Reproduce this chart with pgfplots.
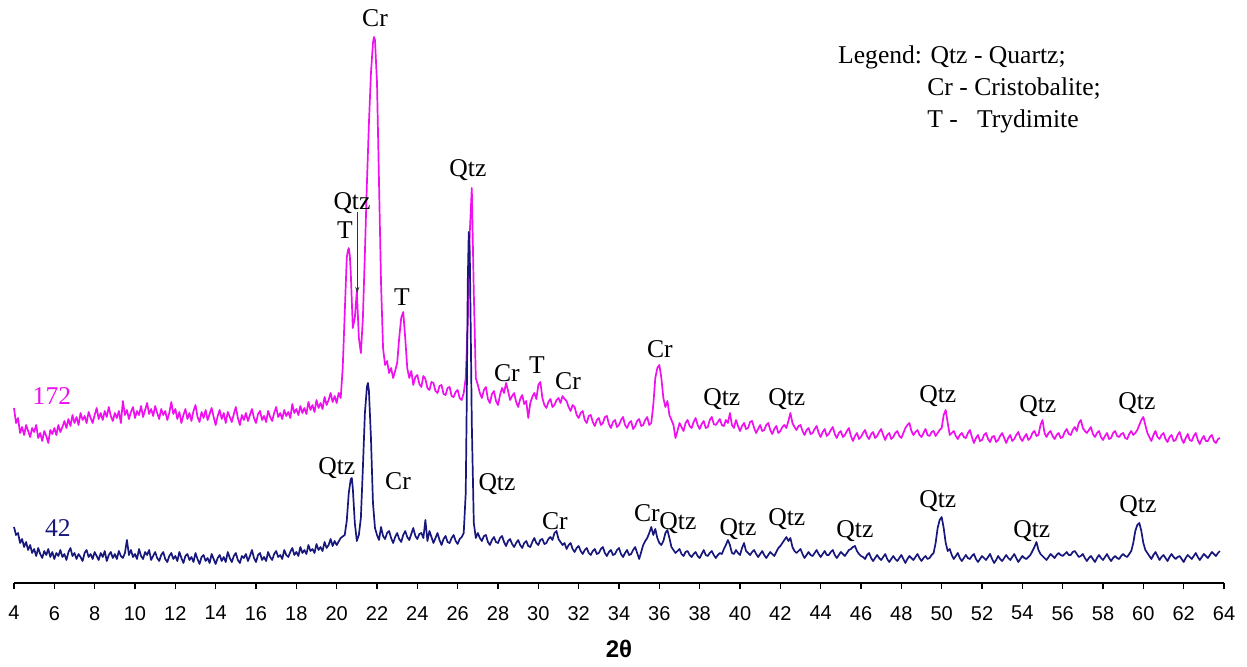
\documentclass[border=0pt]{standalone}
\usepackage{fontspec}
\setmainfont{Liberation Serif}
\setsansfont{Liberation Sans}
\usepackage{pgfplots}
\usepackage{pgfplotstable}
\pgfplotsset{compat=1.18}
\usetikzlibrary{arrows.meta}
\definecolor{mag}{HTML}{EE10EE}
\definecolor{nav}{HTML}{17177C}
\newcommand\annot{\fontsize{12.8}{14}\selectfont}
\begin{document}
\pgfplotstableread{
x y
4.0 175
4.1 160
4.2 165
4.3 150
4.4 156
4.5 148
4.6 158
4.7 152
4.8 146
4.9 155
5.0 151
5.1 158
5.2 145
5.3 150
5.4 142
5.5 152
5.6 147
5.7 140
5.8 153
5.9 149
6.0 155
6.1 148
6.2 158
6.3 151
6.4 156
6.5 162
6.6 155
6.7 164
6.8 157
6.9 168
7.0 160
7.1 166
7.2 158
7.3 170
7.4 163
7.5 167
7.6 160
7.7 171
7.8 165
7.9 160
8.0 168
8.1 175
8.2 164
8.3 170
8.4 163
8.5 172
8.6 166
8.7 176
8.8 167
8.9 162
9.0 170
9.1 165
9.2 172
9.3 160
9.4 182
9.5 168
9.6 173
9.7 164
9.8 171
9.9 176
10.0 165
10.1 172
10.2 168
10.3 177
10.4 166
10.5 173
10.6 180
10.7 169
10.8 174
10.9 167
11.0 177
11.1 170
11.2 164
11.3 174
11.4 168
11.5 172
11.6 163
11.7 170
11.8 181
11.9 169
12.0 174
12.1 164
12.2 171
12.3 160
12.4 168
12.5 174
12.6 164
12.7 170
12.8 162
12.9 172
13.0 178
13.1 166
13.2 161
13.3 171
13.4 165
13.5 173
13.6 163
13.7 169
13.8 175
13.9 166
14.0 158
14.1 167
14.2 173
14.3 164
14.4 170
14.5 160
14.6 171
14.7 166
14.8 161
14.9 169
15.0 176
15.1 165
15.2 158
15.3 168
15.4 163
15.5 170
15.6 162
15.7 168
15.8 174
15.9 165
16.0 160
16.1 169
16.2 172
16.3 163
16.4 167
16.5 161
16.6 172
16.7 166
16.8 162
16.9 170
17.0 176
17.1 166
17.2 170
17.3 164
17.4 173
17.5 167
17.6 171
17.7 165
17.8 179
17.9 170
18.0 174
18.1 168
18.2 177
18.3 170
18.4 175
18.5 169
18.6 181
18.7 173
18.8 178
18.9 171
19.0 183
19.1 175
19.2 180
19.3 174
19.4 186
19.5 178
19.6 183
19.7 190
19.8 181
19.9 187
20.0 180
20.1 190
20.2 185
20.3 215
20.4 270
20.5 325
20.55 332
20.6 335
20.65 328
20.7 310
20.8 255
20.9 265
21.0 292
21.1 245
21.2 230
21.3 265
21.4 330
21.5 400
21.6 460
21.7 510
21.8 540
21.85 546
21.9 543
22.0 500
22.1 400
22.2 300
22.3 235
22.4 218
22.5 222
22.6 210
22.7 215
22.8 205
22.9 212
23.0 220
23.1 245
23.2 265
23.3 271
23.4 245
23.5 215
23.6 205
23.7 212
23.8 198
23.9 206
24.0 208
24.1 199
24.2 196
24.3 207
24.4 204
24.5 195
24.6 193
24.7 201
24.8 200
24.9 192
25.0 190
25.1 197
25.2 198
25.3 189
25.4 188
25.5 195
25.6 196
25.7 187
25.8 186
25.9 191
26.0 193
26.1 185
26.2 183
26.3 190
26.4 205
26.5 260
26.6 350
26.7 395
26.8 290
26.9 205
27.0 198
27.1 190
27.2 185
27.3 193
27.4 196
27.5 184
27.6 180
27.7 189
27.8 192
27.9 182
28.0 178
28.1 188
28.2 195
28.3 190
28.4 200
28.5 192
28.6 183
28.7 187
28.8 190
28.9 181
29.0 176
29.1 184
29.2 188
29.3 179
29.4 182
29.5 165
29.6 180
29.7 186
29.8 190
29.9 184
30.0 198
30.1 201
30.2 185
30.3 178
30.4 175
30.5 181
30.6 184
30.7 176
30.8 178
30.9 183
31.0 185
31.1 180
31.2 187
31.3 184
31.4 182
31.5 176
31.6 172
31.7 178
31.8 176
31.9 168
32.0 165
32.1 170
32.2 172
32.3 163
32.4 160
32.5 167
32.6 168
32.7 161
32.8 157
32.9 163
33.0 165
33.1 158
33.2 160
33.3 166
33.4 167
33.5 159
33.6 155
33.7 161
33.8 163
33.9 156
34.0 158
34.1 163
34.2 166
34.3 158
34.4 155
34.5 160
34.6 162
34.7 154
34.8 157
34.9 162
35.0 164
35.1 157
35.2 158
35.3 163
35.4 166
35.5 158
35.6 160
35.7 178
35.8 205
35.9 215
36.0 218
36.1 205
36.2 185
36.3 176
36.4 182
36.5 168
36.6 163
36.7 158
36.8 145
36.9 152
37.0 160
37.1 156
37.2 152
37.3 160
37.4 163
37.5 157
37.6 155
37.7 161
37.8 165
37.9 158
38.0 154
38.1 159
38.2 162
38.3 155
38.4 156
38.5 163
38.6 166
38.7 159
38.8 158
38.9 161
39.0 164
39.1 158
39.2 157
39.3 163
39.4 160
39.5 170
39.6 158
39.7 155
39.8 163
39.9 157
40.0 152
40.1 157
40.2 160
40.3 154
40.4 155
40.5 161
40.6 162
40.7 155
40.8 150
40.9 154
41.0 158
41.1 152
41.2 153
41.3 158
41.4 160
41.5 153
41.6 149
41.7 154
41.8 157
41.9 150
42.0 152
42.1 156
42.2 158
42.3 155
42.4 162
42.5 170
42.6 160
42.7 156
42.8 153
42.9 157
43.0 158
43.1 152
43.2 148
43.3 153
43.4 155
43.5 149
43.6 150
43.7 154
43.8 157
43.9 150
44.0 146
44.1 151
44.2 154
44.3 147
44.4 149
44.5 153
44.6 156
44.7 149
44.8 145
44.9 150
45.0 152
45.1 146
45.2 148
45.3 152
45.4 155
45.5 147
45.6 142
45.7 147
45.8 150
45.9 144
46.0 146
46.1 150
46.2 153
46.3 147
46.4 144
46.5 149
46.6 151
46.7 145
46.8 147
46.9 151
47.0 154
47.1 148
47.2 143
47.3 148
47.4 150
47.5 144
47.6 146
47.7 150
47.8 152
47.9 147
48.0 145
48.1 150
48.2 155
48.3 158
48.4 160
48.5 152
48.6 148
48.7 151
48.8 153
48.9 148
49.0 146
49.1 150
49.2 154
49.3 148
49.4 147
49.5 151
49.6 152
49.7 147
49.8 150
49.9 153
50.0 155
50.1 168
50.2 173
50.3 160
50.4 148
50.5 150
50.6 152
50.7 147
50.8 144
50.9 148
51.0 150
51.1 146
51.2 145
51.3 150
51.4 153
51.5 146
51.6 140
51.7 145
51.8 148
51.9 142
52.0 143
52.1 148
52.2 150
52.3 144
52.4 141
52.5 146
52.6 147
52.7 141
52.8 143
52.9 147
53.0 150
53.1 145
53.2 140
53.3 145
53.4 148
53.5 142
53.6 144
53.7 148
53.8 151
53.9 145
54.0 142
54.1 146
54.2 149
54.3 143
54.4 145
54.5 150
54.6 152
54.7 147
54.8 148
54.9 158
55.0 163
55.1 150
55.2 146
55.3 150
55.4 152
55.5 147
55.6 144
55.7 148
55.8 150
55.9 145
56.0 146
56.1 151
56.2 154
56.3 149
56.4 148
56.5 153
56.6 156
56.7 152
56.8 160
56.9 163
57.0 155
57.1 152
57.2 150
57.3 153
57.4 156
57.5 149
57.6 146
57.7 150
57.8 152
57.9 146
58.0 143
58.1 147
58.2 150
58.3 144
58.4 145
58.5 150
58.6 152
58.7 147
58.8 146
58.9 149
59.0 150
59.1 145
59.2 144
59.3 149
59.4 152
59.5 148
59.6 150
59.7 153
59.8 158
59.9 163
60.0 166
60.1 158
60.2 150
60.3 146
60.4 142
60.5 148
60.6 152
60.7 146
60.8 144
60.9 148
61.0 150
61.1 144
61.2 141
61.3 146
61.4 148
61.5 142
61.6 143
61.7 148
61.8 151
61.9 144
62.0 140
62.1 145
62.2 149
62.3 143
62.4 142
62.5 147
62.6 150
62.7 143
62.8 139
62.9 144
63.0 147
63.1 142
63.2 142
63.3 146
63.4 148
63.5 142
63.6 140
63.7 144
63.8 145
}\magdata
\pgfplotstableread{
x y
4.0 56
4.1 48
4.2 50
4.3 40
4.4 44
4.5 36
4.6 41
4.7 33
4.8 38
4.9 30
5.0 34
5.1 27
5.2 35
5.3 29
5.4 25
5.5 32
5.6 28
5.7 34
5.8 26
5.9 31
6.0 24
6.1 30
6.2 27
6.3 33
6.4 26
6.5 29
6.6 23
6.7 31
6.8 35
6.9 27
7.0 30
7.1 24
7.2 29
7.3 26
7.4 22
7.5 30
7.6 33
7.7 26
7.8 29
7.9 24
8.0 31
8.1 27
8.2 23
8.3 30
8.4 26
8.5 32
8.6 22
8.7 28
8.8 31
8.9 25
9.0 29
9.1 24
9.2 32
9.3 27
9.4 25
9.5 30
9.6 43
9.7 28
9.8 33
9.9 26
10.0 29
10.1 24
10.2 34
10.3 27
10.4 24
10.5 31
10.6 28
10.7 33
10.8 23
10.9 27
11.0 31
11.1 25
11.2 22
11.3 28
11.4 31
11.5 24
11.6 21
11.7 27
11.8 30
11.9 24
12.0 27
12.1 22
12.2 31
12.3 25
12.4 20
12.5 27
12.6 29
12.7 23
12.8 26
12.9 21
13.0 30
13.1 24
13.2 19
13.3 26
13.4 28
13.5 22
13.6 25
13.7 20
13.8 29
13.9 24
14.0 19
14.1 25
14.2 28
14.3 22
14.4 26
14.5 21
14.6 31
14.7 25
14.8 21
14.9 27
15.0 30
15.1 23
15.2 20
15.3 27
15.4 25
15.5 29
15.6 22
15.7 27
15.8 33
15.9 25
16.0 21
16.1 28
16.2 30
16.3 23
16.4 26
16.5 22
16.6 31
16.7 26
16.8 23
16.9 29
17.0 32
17.1 26
17.2 28
17.3 24
17.4 33
17.5 28
17.6 26
17.7 31
17.8 35
17.9 28
18.0 31
18.1 27
18.2 36
18.3 30
18.4 33
18.5 29
18.6 38
18.7 32
18.8 34
18.9 30
19.0 39
19.1 33
19.2 36
19.3 32
19.4 41
19.5 35
19.6 38
19.7 44
19.8 37
19.9 42
20.0 38
20.2 45
20.4 48
20.5 62
20.6 90
20.7 104
20.75 105
20.8 95
20.9 60
21.0 42
21.1 48
21.2 65
21.3 115
21.4 170
21.5 196
21.55 200
21.6 192
21.7 145
21.8 80
21.9 55
22.0 48
22.1 43
22.2 56
22.3 47
22.4 44
22.5 50
22.6 52
22.7 45
22.8 40
22.9 46
23.0 50
23.1 44
23.2 41
23.3 48
23.4 52
23.5 46
23.6 43
23.7 49
23.8 55
23.9 47
24.0 44
24.1 49
24.2 50
24.3 45
24.4 63
24.5 42
24.6 52
24.7 46
24.8 40
24.9 45
25.0 50
25.1 43
25.2 38
25.3 44
25.4 47
25.5 41
25.6 40
25.7 45
25.8 48
25.9 42
26.0 39
26.1 44
26.2 46
26.3 50
26.4 90
26.45 180
26.5 300
26.55 351
26.6 330
26.65 250
26.7 160
26.8 60
26.9 45
27.0 50
27.1 45
27.2 42
27.3 47
27.4 48
27.5 41
27.6 38
27.7 43
27.8 46
27.9 41
28.0 40
28.1 45
28.2 47
28.3 41
28.4 37
28.5 42
28.6 44
28.7 39
28.8 36
28.9 40
29.0 43
29.1 38
29.2 35
29.3 40
29.4 42
29.5 37
29.6 36
29.7 41
29.8 45
29.9 40
30.0 38
30.1 43
30.2 44
30.3 39
30.4 40
30.5 44
30.6 46
30.7 43
30.8 50
30.9 52
31.0 44
31.1 41
31.2 38
31.3 40
31.4 34
31.5 38
31.6 40
31.7 34
31.8 31
31.9 35
32.0 37
32.1 32
32.2 29
32.3 33
32.4 35
32.5 30
32.6 28
32.7 32
32.8 34
32.9 29
33.0 30
33.1 34
33.2 36
33.3 30
33.4 27
33.5 31
33.6 33
33.7 28
33.8 29
33.9 33
34.0 35
34.1 29
34.2 26
34.3 30
34.4 33
34.5 28
34.6 29
34.7 33
34.8 36
34.9 30
35.0 24
35.1 31
35.2 38
35.3 42
35.4 45
35.5 50
35.6 56
35.7 48
35.8 54
35.9 45
36.0 40
36.1 38
36.2 42
36.3 50
36.4 53
36.5 45
36.6 36
36.7 33
36.8 30
36.9 32
37.0 34
37.1 29
37.2 27
37.3 31
37.4 32
37.5 28
37.6 26
37.7 29
37.8 31
37.9 27
38.0 25
38.1 29
38.2 33
38.3 28
38.4 27
38.5 30
38.6 32
38.7 28
38.8 25
38.9 28
39.0 30
39.1 29
39.2 34
39.3 38
39.4 43
39.5 38
39.6 30
39.7 29
39.8 33
39.9 30
40.0 28
40.1 35
40.2 40
40.3 32
40.4 30
40.5 28
40.6 31
40.7 33
40.8 29
40.9 26
41.0 29
41.1 32
41.2 28
41.3 25
41.4 28
41.5 31
41.6 29
41.7 27
41.8 31
41.9 35
42.0 37
42.1 40
42.2 43
42.3 46
42.4 42
42.5 45
42.6 36
42.7 32
42.8 30
42.9 32
43.0 34
43.1 29
43.2 25
43.3 28
43.4 31
43.5 28
43.6 27
43.7 30
43.8 33
43.9 29
44.0 26
44.1 29
44.2 32
44.3 28
44.4 28
44.5 31
44.6 33
44.7 28
44.8 25
44.9 28
45.0 31
45.1 29
45.2 27
45.3 30
45.4 33
45.5 34
45.6 36
45.7 37
45.8 32
45.9 29
46.0 27
46.1 26
46.2 24
46.3 28
46.4 30
46.5 25
46.6 22
46.7 25
46.8 28
46.9 25
47.0 23
47.1 26
47.2 29
47.3 24
47.4 21
47.5 24
47.6 27
47.7 24
47.8 22
47.9 25
48.0 28
48.1 24
48.2 20
48.3 24
48.4 27
48.5 25
48.6 23
48.7 26
48.8 29
48.9 25
49.0 22
49.1 25
49.2 27
49.3 24
49.4 25
49.5 28
49.6 30
49.7 40
49.8 55
49.9 63
50.0 66
50.1 55
50.2 40
50.3 32
50.4 34
50.5 28
50.6 24
50.7 27
50.8 30
50.9 25
51.0 22
51.1 25
51.2 28
51.3 25
51.4 24
51.5 27
51.6 29
51.7 24
51.8 21
51.9 24
52.0 27
52.1 25
52.2 23
52.3 26
52.4 29
52.5 24
52.6 20
52.7 23
52.8 27
52.9 24
53.0 22
53.1 25
53.2 28
53.3 25
53.4 23
53.5 26
53.6 29
53.7 25
53.8 21
53.9 24
54.0 27
54.1 25
54.2 24
54.3 26
54.4 28
54.5 32
54.6 36
54.7 41
54.8 33
54.9 29
55.0 27
55.1 25
55.2 23
55.3 26
55.4 29
55.5 27
55.6 25
55.7 28
55.8 30
55.9 28
56.0 27
56.1 29
56.2 31
56.3 28
56.4 28
56.5 31
56.6 32
56.7 29
56.8 26
56.9 27
57.0 29
57.1 25
57.2 22
57.3 25
57.4 27
57.5 24
57.6 21
57.7 25
57.8 28
57.9 25
58.0 23
58.1 26
58.2 29
58.3 25
58.4 22
58.5 25
58.6 27
58.7 25
58.8 24
58.9 27
59.0 29
59.1 27
59.2 26
59.3 29
59.4 32
59.5 40
59.6 52
59.7 58
59.8 60
59.9 52
60.0 40
60.1 33
60.2 30
60.3 27
60.4 24
60.5 28
60.6 31
60.7 27
60.8 23
60.9 26
61.0 28
61.1 25
61.2 22
61.3 26
61.4 29
61.5 26
61.6 24
61.7 26
61.8 27
61.9 24
62.0 21
62.1 25
62.2 28
62.3 26
62.4 24
62.5 27
62.6 30
62.7 26
62.8 23
62.9 26
63.0 29
63.1 27
63.2 25
63.3 28
63.4 31
63.5 29
63.6 27
63.7 30
63.8 32
}\navdata
\begin{tikzpicture}
\begin{axis}[
  scale only axis, width=605pt, height=291.5pt,
  xmin=4, xmax=64, ymin=0, ymax=583,
  axis x line*=bottom, axis y line=none, ytick=\empty,
  xtick={4,6,...,64}, tick align=outside, major tick length=3pt,
  axis line style={line width=0.8pt, black},
  tick style={line width=0.8pt, black},
  /pgf/number format/assume math mode=true,
  xticklabel style={font=\fontsize{10}{12}\sffamily, yshift=-5pt},
  xlabel={2θ},
  xlabel style={font=\fontsize{12}{14}\sffamily\bfseries, at={(axis description cs:0.5,0)}, anchor=center, yshift=-33pt},
  clip=false,
]
\coordinate (bl) at (rel axis cs:0,0);
\coordinate (tr) at (rel axis cs:1,1);
\addplot[mag, line width=0.85pt, line join=round] table[x=x,y=y] {\magdata};
\addplot[nav, line width=0.85pt, line join=round] table[x=x,y=y] {\navdata};
% series labels
\node[mag, font=\annot, inner sep=0] at (axis cs:5.88,187) {172};
\node[nav, font=\annot, inner sep=0] at (axis cs:6.18,55) {42};
% magenta annotations
\begin{scope}[every node/.style={font=\annot, inner sep=0, black}]
\node at (axis cs:21.9,565) {Cr};
\node at (axis cs:20.76,380) {Qtz};
\node at (axis cs:20.41,353) {T};
\node at (axis cs:23.24,286) {T};
\node at (axis cs:26.51,413) {Qtz};
\node at (axis cs:28.44,210) {Cr};
\node at (axis cs:29.93,218) {T};
\node at (axis cs:31.47,202) {Cr};
\node at (axis cs:36.03,234) {Cr};
\node at (axis cs:39.1,184) {Qtz};
\node at (axis cs:42.32,184) {Qtz};
\node at (axis cs:49.81,187) {Qtz};
\node at (axis cs:54.77,177) {Qtz};
\node at (axis cs:59.68,180) {Qtz};
% navy annotations
\node at (axis cs:20.01,115) {Qtz};
\node at (axis cs:23.04,102) {Cr};
\node at (axis cs:27.95,99) {Qtz};
\node at (axis cs:30.82,62) {Cr};
\node at (axis cs:35.38,70) {Cr};
\node at (axis cs:36.92,60) {Qtz};
\node at (axis cs:39.9,54) {Qtz};
\node at (axis cs:42.32,64) {Qtz};
\node at (axis cs:45.7,52) {Qtz};
\node at (axis cs:49.81,82) {Qtz};
\node at (axis cs:54.47,52) {Qtz};
\node at (axis cs:59.73,77) {Qtz};
% legend text
\node[anchor=west] at (axis cs:44.85,526) {Legend: Qtz - Quartz;};
\node[anchor=west] at (axis cs:49.27,494) {Cr - Cristobalite;};
\node[anchor=west] at (axis cs:49.27,462) {T -\hspace{0.75em}Trydimite};
\end{scope}
\draw[black!80, line width=0.5pt, -{Stealth[length=3pt,width=2pt]}] (axis cs:21.02,371) -- (axis cs:21.02,290);
\end{axis}
\path (bl) ++(-7pt,-41.5pt);
\path (tr) ++(11.5pt,0pt);
\end{tikzpicture}
\end{document}
